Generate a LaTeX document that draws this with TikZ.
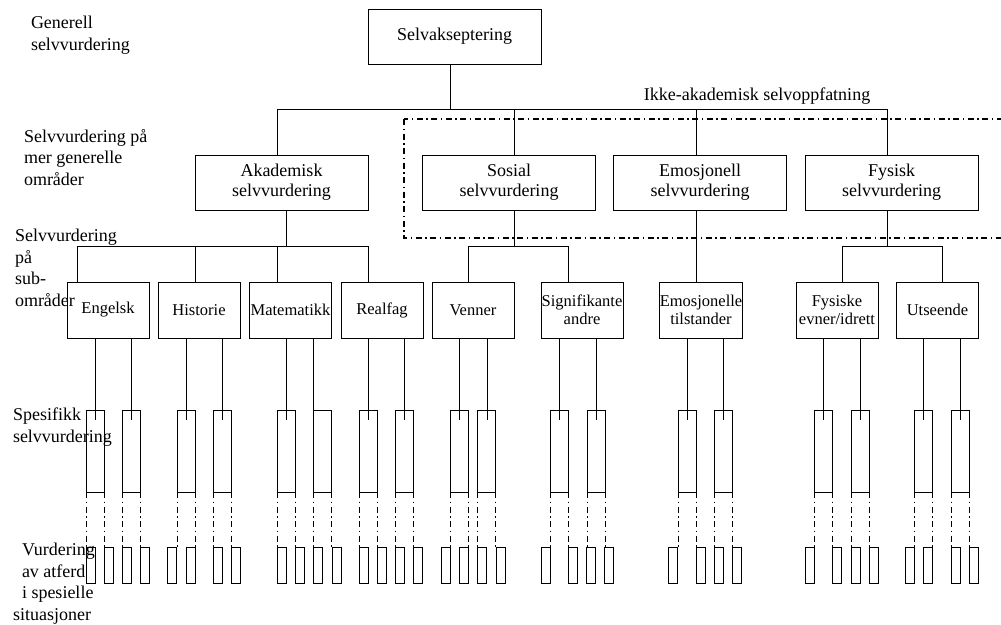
\documentclass[tikz,border=0pt]{standalone}
\usepackage{fontspec}
\setmainfont{Liberation Serif}
\usetikzlibrary{calc}
\begin{document}
\begin{tikzpicture}[x=1pt,y=-1pt,
  line width=0.9pt,
  every node/.style={inner sep=0pt, outer sep=0pt},
  bigbox/.style={draw, minimum width=173pt, minimum height=55pt, align=center, font=\fontsize{18}{20}\selectfont},
  subbox/.style={draw, minimum width=82pt, minimum height=56pt, align=center, font=\fontsize{16.5}{18.5}\selectfont},
  specbox/.style={draw, minimum width=18.5pt, minimum height=82pt, anchor=north west},
  leafbox/.style={draw, minimum width=9.5pt, minimum height=36pt, anchor=north west},
  lbl/.style={anchor=base west, align=left, font=\fontsize{18}{21.5}\selectfont},
  dashdot/.style={dash pattern=on 6pt off 3.5pt on 1.5pt off 3.5pt},
]
\useasboundingbox (0,0) rectangle (1001,624);

% frame around the non-academic branch
\draw[dashdot, line width=1.4pt] (404,119) rectangle (1012,238);

% top and second level
\node[bigbox] (top) at (454.5,36.5) {Selvakseptering};
\node[bigbox] (aka) at (281.5,182.5) {Akademisk\\selvvurdering};
\node[bigbox] (sos) at (509,182.5) {Sosial\\selvvurdering};
\node[bigbox] (emo) at (700,182.5) {Emosjonell\\selvvurdering};
\node[bigbox] (fys) at (891.5,182.5) {Fysisk\\selvvurdering};

\node[anchor=base, font=\fontsize{18}{20}\selectfont] (ikke) at (757,100) {Ikke-akademisk selvoppfatning};

% sub-areas
\node[subbox] (eng) at (108,310) {Engelsk};
\node[subbox] (his) at (199,310) {Historie};
\node[subbox] (mat) at (290.5,310) {Matematikk};
\node[subbox] (rea) at (382,310) {Realfag};
\node[subbox] (ven) at (473,310) {Venner};
\node[subbox] (sig) at (582,310) {Signifikante\\andre};
\node[subbox] (emt) at (701,310) {Emosjonelle\\tilstander};
\node[subbox] (fye) at (837,310) {Fysiske\\evner/idrett};
\node[subbox] (uts) at (937.5,310) {Utseende};

% first level connectors
\coordinate (j0) at (450,109);
\coordinate (j1) at (277,109);
\coordinate (j2) at (514,109);
\coordinate (j3) at (696,109);
\coordinate (j4) at (887,109);
\draw (top.south -| j0) -- (j0);
\draw (j1) -- (j4);
\foreach \n/\j in {aka/j1, sos/j2, emo/j3, fys/j4}
  \draw (\j) -- (\j |- \n.north);

% academic branch
\coordinate (aj) at (286,246);
\coordinate (aj1) at (77,246);
\coordinate (aj2) at (195,246);
\coordinate (aj3) at (277,246);
\coordinate (aj4) at (368,246);
\draw (aj |- aka.south) -- (aj);
\draw (aj1) -- (aj4);
\foreach \n/\j in {eng/aj1, his/aj2, mat/aj3, rea/aj4}
  \draw (\j) -- (\j |- \n.north);

% social branch
\coordinate (sj) at (514,246);
\coordinate (sj1) at (468,246);
\coordinate (sj2) at (568,246);
\draw (sj |- sos.south) -- (sj);
\draw (sj1) -- (sj2);
\foreach \n/\j in {ven/sj1, sig/sj2}
  \draw (\j) -- (\j |- \n.north);

% emotional branch
\draw (j3 |- emo.south) -- (j3 |- emt.north);

% physical branch
\coordinate (fj) at (887,246);
\coordinate (fj1) at (842,246);
\coordinate (fj2) at (942,246);
\draw (fj |- fys.south) -- (fj);
\draw (fj1) -- (fj2);
\foreach \n/\j in {fye/fj1, uts/fj2}
  \draw (\j) -- (\j |- \n.north);

% specific self-evaluations and situation boxes
\foreach \p/\sl/\lx/\ka/\kb [count=\i] in {
  eng/86/95/86/104, eng/122/131/122/140,
  his/177/186/167/186, his/213/222/213/231,
  mat/277/286/277/295, mat/313/313/313/332,
  rea/359/368/359/377, rea/395/404/395/413,
  ven/450/459/441/459, ven/477/487/477/496,
  sig/550/559/541/568, sig/587/596/586/604,
  emt/678/687/668/696, emt/714/723/714/732,
  fye/814/823/805/832, fye/851/860/851/869,
  uts/914/923/905/923, uts/951/960/951/969}{
  \node[specbox] (sp\i) at (\sl,410) {};
  \node[leafbox] (lfa\i) at (\ka,547) {};
  \node[leafbox] (lfb\i) at (\kb,547) {};
  \coordinate (lx\i) at (\lx,420);
  \draw (\p.south -| lx\i) -- (lx\i);
  \draw[dashdot] (sp\i.south west) -- (sp\i.south west |- lfa\i.north);
  \draw[dashdot] (sp\i.south east) -- (sp\i.south east |- lfb\i.north);
}

% level labels (anchored at the baseline of their last line)
\node[lbl] (l1) at (31,50) {Generell\\selvvurdering};
\node[lbl] (l2) at (24,185) {Selvvurdering på\\mer generelle\\områder};
\node[lbl] (l3) at (15,306) {Selvvurdering\\på\\sub-\\områder};
\node[lbl] (l4) at (13,442) {Spesifikk\\selvvurdering};
\node[lbl] (l5) at (22,620) {Vurdering\\av atferd\\i spesielle\\\hspace*{-9pt}situasjoner};
\end{tikzpicture}
\end{document}
